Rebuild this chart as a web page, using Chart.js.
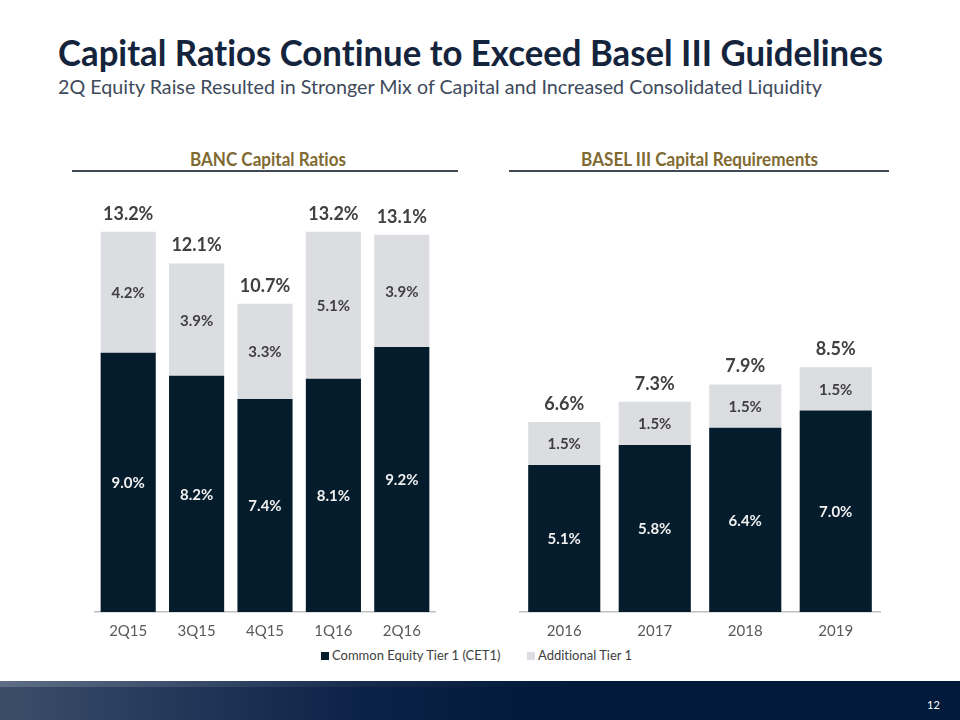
<!DOCTYPE html>
<html>
<head>
<meta charset="utf-8">
<script src="https://cdn.jsdelivr.net/npm/chart.js@4"></script>
<style>
  html, body { margin:0; padding:0; background:#fff; }
  #page { position:relative; width:960px; height:720px; overflow:hidden; font-family: Lato, "Open Sans", sans-serif; font-variant-ligatures: none; }
  .fit { position:absolute; white-space:nowrap; transform-origin:0 0; line-height:1; }
  #title { left:58px; top:33px; font-size:37px; font-weight:700; color:#14243d; }
  #subtitle { left:58px; top:76px; font-size:20px; color:#3e4a5c; }
  .hdr { position:absolute; font-size:19px; font-weight:700; color:#806a32; white-space:nowrap; transform-origin:50% 50%; line-height:1; }
  .rule { position:absolute; height:2px; background:#3f4a56; }
  canvas { position:absolute; }
  #legend { position:absolute; top:647px; left:0; width:960px; height:16px; font-size:13px; color:#404040; }
  .lg { position:absolute; top:0; white-space:nowrap; line-height:16px; }
  .sw { display:inline-block; width:8px; height:8px; margin-right:3px; vertical-align:0px; }
  #footer { position:absolute; left:0; top:681px; width:960px; height:39px;
    background: linear-gradient(90deg, #3b4e69 0%, #24385a 18%, #0c2146 38%, #021a3c 55%, #021a3c 100%); }
  #footer:before { content:""; position:absolute; left:0; top:0; width:100%; height:6px;
    background: linear-gradient(90deg, rgba(255,255,255,0.18) 0%, rgba(255,255,255,0.05) 35%, rgba(255,255,255,0) 60%); }
  #pg { position:absolute; left:927px; top:698px; font-size:11px; color:#ffffff; font-family: Lato, sans-serif; }
</style>
</head>
<body>
<div id="page">
  <div id="title" class="fit" data-w="825">Capital Ratios Continue to Exceed Basel III Guidelines</div>
  <div id="subtitle" class="fit" data-w="764">2Q Equity Raise Resulted in Stronger Mix of Capital and Increased Consolidated Liquidity</div>

  <div class="hdr" id="h1" data-cx="268" data-w="156" style="top:149px;">BANC Capital Ratios</div>
  <div class="rule" style="left:72px; width:386px; top:170px;"></div>
  <div class="hdr" id="h2" data-cx="700" data-w="237" style="top:149px;">BASEL III Capital Requirements</div>
  <div class="rule" style="left:509px; width:380px; top:170px;"></div>

  <canvas id="c1" style="left:94px; top:180px; width:342px; height:462px;" width="342" height="462"></canvas>
  <canvas id="c2" style="left:519px; top:180px; width:362px; height:462px;" width="362" height="462"></canvas>

  <div id="legend"></div>
  <div id="footer"></div>
  <div id="pg">12</div>
</div>
<script>
// ---- Data ----
const seriesNames = ["Common Equity Tier 1 (CET1)", "Additional Tier 1"];
const seriesColors = ["#051c2c", "#dcdde0"];
const leftCategories = ["2Q15", "3Q15", "4Q15", "1Q16", "2Q16"];
const leftCET1 = [9.0, 8.2, 7.4, 8.1, 9.2];
const leftAT1 = [4.2, 3.9, 3.3, 5.1, 3.9];
const leftTotals = [13.2, 12.1, 10.7, 13.2, 13.1];
const rightCategories = ["2016", "2017", "2018", "2019"];
const rightCET1 = [5.1, 5.8, 6.4, 7.0];
const rightAT1 = [1.5, 1.5, 1.5, 1.5];
const rightTotals = [6.6, 7.3, 7.9, 8.5];

// ---- Fit text widths ----
document.querySelectorAll('.fit').forEach(el => {
  const w = el.getBoundingClientRect().width;
  const target = +el.dataset.w;
  el.style.transform = 'scaleX(' + (target / w) + ')';
});
document.querySelectorAll('.hdr').forEach(el => {
  const w = el.getBoundingClientRect().width;
  const target = +el.dataset.w;
  el.style.left = (+el.dataset.cx - w / 2) + 'px';
  el.style.transform = 'scaleX(' + (target / w) + ')';
});

// ---- Legend ----
(function(){
  const lg = document.getElementById('legend');
  const xs = [321, 527];
  seriesNames.forEach((n, i) => {
    const d = document.createElement('div');
    d.className = 'lg';
    d.style.left = xs[i] + 'px';
    d.innerHTML = '<span class="sw" style="background:' + seriesColors[i] + '"></span>' + n;
    lg.appendChild(d);
  });
})();

// ---- Label plugin ----
const labelPlugin = {
  id: 'labels',
  afterDatasetsDraw(chart, args, opts) {
    const ctx = chart.ctx;
    ctx.save();
    ctx.textAlign = 'center';
    ctx.textBaseline = 'middle';
    chart.data.datasets.forEach((ds, di) => {
      const meta = chart.getDatasetMeta(di);
      meta.data.forEach((bar, i) => {
        const p = bar.getProps(['x', 'y', 'base'], true);
        ctx.font = 'bold 15px Lato, "Open Sans", sans-serif';
        ctx.fillStyle = di === 0 ? '#f0f0f0' : '#404040';
        ctx.fillText(ds.data[i].toFixed(1) + '%', p.x, (p.y + p.base) / 2 + 1);
      });
    });
    const lastMeta = chart.getDatasetMeta(chart.data.datasets.length - 1);
    const totals = opts.totals;
    lastMeta.data.forEach((bar, i) => {
      const p = bar.getProps(['x', 'y'], true);
      ctx.font = 'bold 18px Lato, "Open Sans", sans-serif';
      ctx.fillStyle = '#404040';
      ctx.fillText(totals[i].toFixed(1) + '%', p.x, p.y - 18);
    });
    ctx.restore();
  }
};

function makeChart(id, cats, cet1, at1, totals, barPct) {
  return new Chart(document.getElementById(id), {
    type: 'bar',
    data: {
      labels: cats,
      datasets: [
        { label: seriesNames[0], data: cet1, backgroundColor: seriesColors[0], borderWidth: 0 },
        { label: seriesNames[1], data: at1, backgroundColor: seriesColors[1], borderWidth: 0 }
      ]
    },
    options: {
      responsive: false,
      animation: false,
      events: [],
      layout: { padding: 0 },
      datasets: { bar: { categoryPercentage: 1.0, barPercentage: barPct } },
      plugins: {
        legend: { display: false },
        tooltip: { enabled: false },
        labels: { totals: totals }
      },
      scales: {
        x: {
          stacked: true,
          grid: { display: false, drawTicks: false },
          border: { display: true, color: '#bfbfbf', width: 1.5 },
          ticks: { color: '#595959', font: { family: 'Lato, "Open Sans", sans-serif', size: 15 }, padding: 10 },
          afterFit: (s) => { s.height = 30; }
        },
        y: { stacked: true, display: false, min: 0, max: 15 }
      }
    },
    plugins: [labelPlugin]
  });
}

makeChart('c1', leftCategories, leftCET1, leftAT1, leftTotals, 0.806);
makeChart('c2', rightCategories, rightCET1, rightAT1, rightTotals, 0.797);
</script>
</body>
</html>
